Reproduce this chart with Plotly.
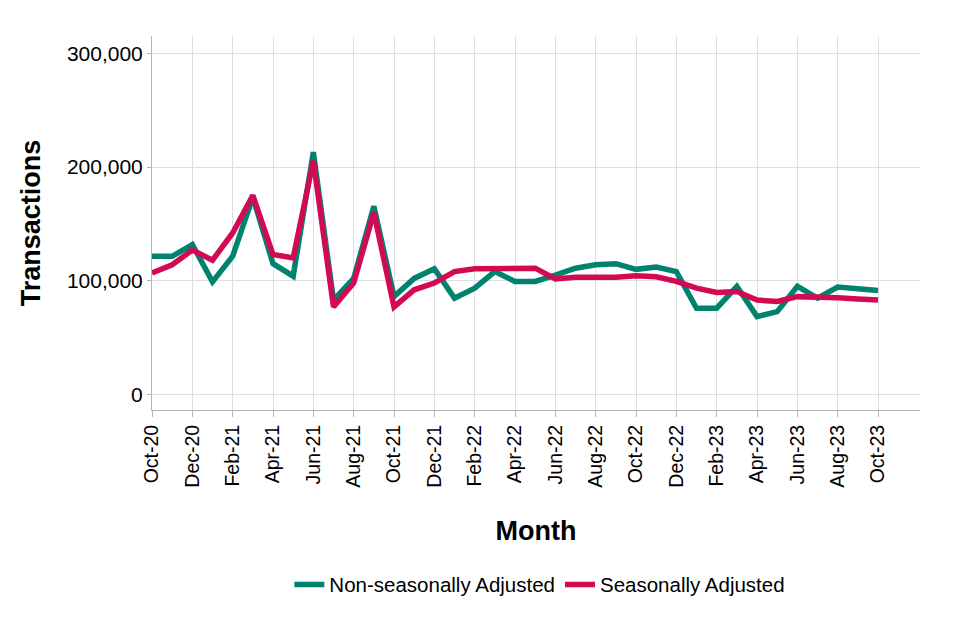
import plotly.graph_objects as go

months = ["Oct-20","Nov-20","Dec-20","Jan-21","Feb-21","Mar-21","Apr-21","May-21","Jun-21",
          "Jul-21","Aug-21","Sep-21","Oct-21","Nov-21","Dec-21","Jan-22","Feb-22","Mar-22",
          "Apr-22","May-22","Jun-22","Jul-22","Aug-22","Sep-22","Oct-22","Nov-22","Dec-22",
          "Jan-23","Feb-23","Mar-23","Apr-23","May-23","Jun-23","Jul-23","Aug-23","Sep-23","Oct-23"]

non_seasonal = [121500, 121500, 131800, 99000, 121500, 173500, 115000, 104000, 213000,
                83000, 102000, 165500, 86000, 102000, 110500, 84700, 93500, 108000,
                99400, 99400, 105000, 111000, 114000, 115000, 110000, 112000, 108000,
                75800, 75800, 95000, 68400, 72800, 95000, 84700, 94400, 93000, 91400]

seasonal = [106800, 114000, 127000, 118000, 142000, 175000, 123000, 120000, 205500,
            77000, 98000, 160000, 77000, 92000, 98000, 108000, 110600, 110600,
            111000, 111000, 101500, 103000, 103000, 103000, 104400, 103500, 99400,
            93500, 89700, 90500, 83000, 81700, 86000, 86000, 85000, 84000, 83000]

tick_labels = months[::2]

x_idx = list(range(len(months)))

fig = go.Figure()
fig.add_trace(go.Scatter(x=x_idx, y=non_seasonal, mode="lines", name="Non-seasonally Adjusted",
                         line=dict(color="#00836E", width=5.5)))
fig.add_trace(go.Scatter(x=x_idx, y=seasonal, mode="lines", name="Seasonally Adjusted",
                         line=dict(color="#D20A53", width=5.5)))

font_family = "Liberation Sans, Arial, sans-serif"

fig.update_layout(
    width=960, height=640,
    margin=dict(l=144, r=48, t=28, b=238),
    paper_bgcolor="white", plot_bgcolor="white",
    font=dict(family=font_family, color="black"),
    showlegend=True,
    legend=dict(orientation="h", x=0.505, xanchor="center", y=-0.467, yanchor="middle",
                font=dict(size=20.5), itemwidth=30),
    xaxis=dict(
        range=[0, 38.08],
        automargin=False,
        tickmode="array",
        tickvals=x_idx[::2],
        ticktext=tick_labels,
        tickangle=-90,
        tickfont=dict(size=19.5),
        showgrid=True, gridcolor="#dedede", gridwidth=1,
        showline=True, linecolor="#b5b5b5", linewidth=1,
        ticks="outside", tickcolor="#b5b5b5", ticklen=6,
        zeroline=False,
        title=dict(text="<b>Month</b>", font=dict(size=27), standoff=34),
    ),
    yaxis=dict(
        range=[-13700, 315200],
        automargin=False,
        tickmode="array",
        tickvals=[0, 100000, 200000, 300000],
        tickformat=",",
        tickfont=dict(size=21),
        showgrid=True, gridcolor="#dedede", gridwidth=1,
        showline=True, linecolor="#b5b5b5", linewidth=1,
        ticks="outside", tickcolor="#b5b5b5", ticklen=4,
        zeroline=False,
        title=dict(text="<b>Transactions</b>", font=dict(size=27), standoff=18),
    ),
)

fig.write_html("out.html")
